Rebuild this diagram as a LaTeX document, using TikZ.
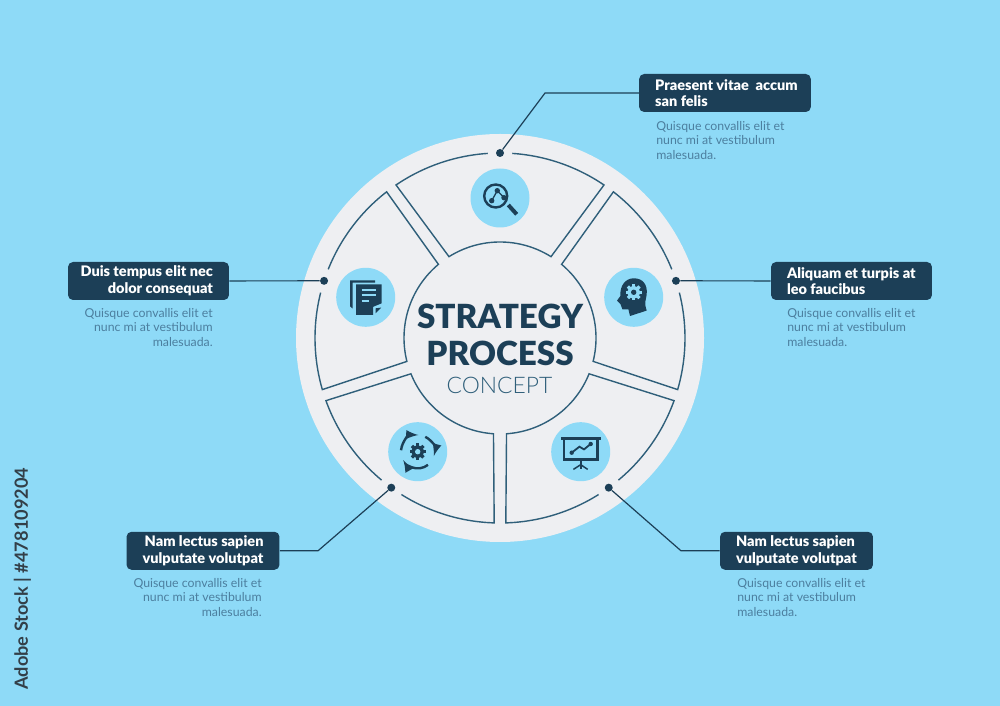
\documentclass[tikz,border=0pt]{standalone}
\usepackage{fontspec}
\setmainfont{Lato}
\newfontfamily\heavyfont{Lato Black}
\newfontfamily\lightfont{Lato Light}
\definecolor{skyblue}{HTML}{8EDAF7}
\definecolor{panelgrey}{HTML}{EEEFF2}
\definecolor{navy}{HTML}{1C3F57}
\definecolor{slateline}{HTML}{2F5F7A}
\definecolor{slatetext}{HTML}{4C7F9F}
\definecolor{stockgrey}{HTML}{333F48}
\tikzset{
	segline/.style={draw=slateline, line width=1.4*0.02cm, line join=miter},
	dotmark/.style={circle, fill=navy, inner sep=0, minimum size=0.16cm},
	leader/.style={draw=navy, line width=1.2*0.02cm},
	titlebox/.style={fill=navy, text=white, rounded corners=0.1cm, inner xsep=0.1cm, inner ysep=0, minimum height=0.76cm, text width=#1, font=\heavyfont\fontsize{8.25}{9.4}\selectfont},
	bodytext/.style={text=slatetext, inner sep=0, text width=3cm, font=\fontsize{7}{8}\selectfont},
	iconline/.style={draw=navy, line width=2.4*0.02cm},
}
\def\petal(#1){\draw[segline] ({#1+3.8}:185) arc ({#1+3.8}:{#1+34.2}:185) -- ({#1+32.1}:96) arc ({#1+32.1}:{#1-32.1}:96) -- ({#1-34.2}:185) arc ({#1-34.2}:{#1-3.8}:185);}
\def\cog(#1,#2)[#3]{
	\foreach \a in {0,45,...,315}
		\draw[#3, line width=3.2*0.02cm] (#1,#2) ++(\a:5) -- ++(\a:3.2);
	\fill[#3] (#1,#2) circle (6.2);
}
\def\inl{\hspace*{0.22cm}}
\def\inr{\hspace*{0.22cm}\null}
\begin{document}
\begin{tikzpicture}[x=0.02cm, y=0.02cm]
	\fill[skyblue] (0,0) rectangle (1000,706);
	\fill[panelgrey] (500,368) circle (204);

	\begin{scope}[shift={(500,368)}]
		\petal(90)
		\petal(18)
		\petal(162)
		\petal(234)
		\petal(-54)
		\node[dotmark] (dottop) at (90:185) {};
		\node[dotmark] (dotright) at (18:185) {};
		\node[dotmark] (dotleft) at (162:185) {};
		\node[dotmark] (dotlowleft) at (234:185) {};
		\node[dotmark] (dotlowright) at (-54:185) {};
	\end{scope}

	\node[text=navy, font=\heavyfont\fontsize{18.9}{20}\selectfont] (strategy) at (500,389.5) {STRATEGY};
	\node[text=navy, font=\heavyfont\fontsize{18.9}{20}\selectfont] (process) at (500,353) {PROCESS};
	\node[text=slateline, font=\lightfont\fontsize{13}{14}\selectfont] (concept) at (499.5,321) {CONCEPT};

	\node[titlebox=3.234cm, align=flush left] (boxtop) at (725,613) {\inl Praesent vitae\ \ accum\\\inl san felis};
	\node[titlebox=3.02cm, align=flush left] (boxright) at (851.5,425) {\inl Aliquam et turpis at\\\inl leo faucibus};
	\node[titlebox=3.02cm, align=flush right] (boxleft) at (148.5,425) {Duis tempus elit nec\inr\\dolor consequat\inr};
	\node[titlebox=2.86cm, align=flush right] (boxlowleft) at (203,155.2) {Nam lectus sapien\inr\\vulputate volutpat\inr};
	\node[titlebox=2.86cm, align=flush left] (boxlowright) at (796.5,155.2) {\inl Nam lectus sapien\\\inl vulputate volutpat};

	\coordinate (bendtop) at (545,613);
	\coordinate (bendlowleft) at (318,155.2);
	\coordinate (bendlowright) at (681,155.2);
	\draw[leader] (dottop) -- (bendtop) -- (boxtop);
	\draw[leader] (dotright) -- (boxright);
	\draw[leader] (dotleft) -- (boxleft);
	\draw[leader] (dotlowleft) -- (bendlowleft) -- (boxlowleft);
	\draw[leader] (dotlowright) -- (bendlowright) -- (boxlowright);

	\node[bodytext, anchor=north west, align=flush left] (bodytop) at (656,584.5) {Quisque convallis elit et\\nunc mi at vestibulum\\malesuada.};
	\node[bodytext, anchor=north west, align=flush left] (bodyright) at (787,397.5) {Quisque convallis elit et\\nunc mi at vestibulum\\malesuada.};
	\node[bodytext, anchor=north east, align=flush right] (bodyleft) at (213,397.5) {Quisque convallis elit et\\nunc mi at vestibulum\\malesuada.};
	\node[bodytext, anchor=north east, align=flush right] (bodylowleft) at (262,127.5) {Quisque convallis elit et\\nunc mi at vestibulum\\malesuada.};
	\node[bodytext, anchor=north west, align=flush left] (bodylowright) at (737,127.5) {Quisque convallis elit et\\nunc mi at vestibulum\\malesuada.};

	\node[text=stockgrey, rotate=90, anchor=west, inner sep=0, font=\bfseries\fontsize{10.35}{12}\selectfont] (stockline) at (22.5,16) {Adobe Stock | \#478109204};

	\fill[skyblue] (500,508) circle (29.5);
	\fill[skyblue] (633.7,408.7) circle (29.5);
	\fill[skyblue] (365.7,408.7) circle (29.5);
	\fill[skyblue] (417.7,254.3) circle (29.5);
	\fill[skyblue] (580.7,254.3) circle (29.5);

	\begin{scope}[shift={(500,508)}]
		\draw[iconline] (-4.3,2) circle (11.5);
		\draw[navy, line width=4*0.02cm] (8.3,-7) -- (16.7,-16.3);
		\draw[navy, line width=1.3*0.02cm] (-8.3,-2.7) -- (-2.7,7.3) -- (4,0.3);
		\fill[navy] (-8.3,-2.7) circle (2.7);
		\fill[navy] (-2.7,7.3) circle (2.7);
		\fill[navy] (4,0.3) circle (2.7);
	\end{scope}

	\begin{scope}[shift={(633.7,408.7)}]
		\fill[navy] (13,-13.3) -- (-3.7,-18.7) -- (-5.3,-12) -- (-11.3,-12) -- (-13.3,-6.7) -- (-16.7,-3.3) -- (-13.3,1.3) .. controls (-14,12) and (-8,19) .. (0,19) .. controls (9,19) and (14,13) .. (13,3) .. controls (12.5,-3) and (10,-4.3) .. cycle;
		\cog(0,5)[skyblue]
		\fill[navy] (0,5) circle (2.7);
	\end{scope}

	\begin{scope}[shift={(365.7,408.7)}]
		\fill[navy] (-15.7,17) -- (9.3,17) -- (9.3,14.6) -- (-13,14.6) -- (-13,-11.3) -- (-15.7,-9) -- cycle;
		\fill[navy] (-9.7,13) -- (16,13) -- (16,-6) -- (7.5,-9.5) -- (7.5,-17.7) -- (-9.7,-17.7) -- cycle;
		\fill[navy] (10,-11) -- (15.5,-10.3) -- (10,-16) -- cycle;
		\draw[skyblue, line width=1.8*0.02cm] (-4,7) -- (10.5,7);
		\draw[skyblue, line width=1.8*0.02cm] (-4,2) -- (10.5,2);
		\draw[skyblue, line width=1.8*0.02cm] (-4,-3.7) -- (3,-3.7);
	\end{scope}

	\begin{scope}[shift={(417.7,254.3)}]
		\draw[iconline, -latex] (175:16.7) arc (175:88:16.7);
		\draw[iconline, -latex] (63:16.7) arc (63:-15:16.7);
		\draw[iconline, -latex] (-52:16.7) arc (-52:-150:16.7);
		\cog(0,0)[navy]
		\fill[skyblue] (0,0) circle (2.7);
	\end{scope}

	\begin{scope}[shift={(580.7,254.3)}]
		\fill[navy] (-20,15) rectangle (20,12);
		\draw[iconline] (-16.7,12) -- (-16.7,-7.7) -- (16.7,-7.7) -- (16.7,12);
		\draw[navy, line width=1.8*0.02cm] (-9,-1) -- (-1.3,5) -- (3.3,2.3) -- (10,7.7);
		\fill[navy] (-9,-1) circle (2.2);
		\fill[navy] (10,7.7) circle (2.2);
		\draw[iconline] (0,-7.7) -- (0,-17.7);
		\draw[navy, line width=1.5*0.02cm] (-7.3,-17.7) -- (0,-13) -- (7,-17.7);
	\end{scope}
\end{tikzpicture}
\end{document}
